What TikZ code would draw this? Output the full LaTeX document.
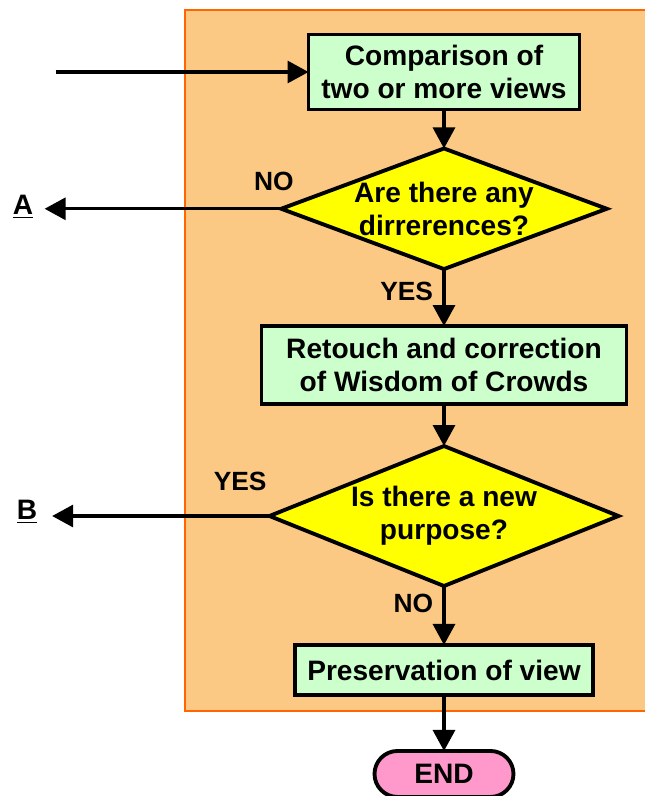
\documentclass[tikz,border=0pt]{standalone}
\usepackage{fontspec}
\setmainfont{Liberation Sans}
\usepackage{tikz}
\usetikzlibrary{positioning,shapes.geometric,arrows.meta}
\definecolor{zonefill}{HTML}{FBC984}
\definecolor{zoneline}{HTML}{FF6600}
\definecolor{procfill}{HTML}{CCFFCC}
\definecolor{decfill}{HTML}{FFFF00}
\definecolor{endfill}{HTML}{FF99CC}
\tikzset{
  zone/.style={fill=zonefill,draw=zoneline,line width=1.2pt},
  process/.style={shape=rectangle,draw=black,line width=2.2pt,fill=procfill,align=center,
    inner sep=0pt,outer sep=0pt,font=\bfseries\fontsize{16}{19}\selectfont},
  decision/.style={shape=diamond,aspect=2.7,draw=black,line width=2.2pt,fill=decfill,align=center,
    inner sep=0pt,outer sep=0pt,font=\bfseries\fontsize{16}{19}\selectfont},
  terminal/.style={shape=rectangle,rounded corners=0.46cm,draw=black,line width=2.2pt,fill=endfill,
    inner sep=0pt,outer sep=0pt,font=\bfseries\fontsize{16}{19}\selectfont},
  flow/.style={line width=1.8pt,draw=black,-{Triangle[length=0.42cm,width=0.44cm]}},
  answer/.style={font=\bfseries\fontsize{15}{18}\selectfont},
  exitlabel/.style={font=\bfseries\fontsize{16}{19}\selectfont}
}
\begin{document}
\begin{tikzpicture}[x=0.02cm,y=-0.02cm]
      \clip (0,0) rectangle (645,796);
      \fill[white] (0,0) rectangle (645,796);
      \draw[zone] (185,10) rectangle (680,711);
      \node[process,minimum width=5.42cm,minimum height=1.5cm] (cmp) at (444,72) {Comparison of\\two or more views};
      \node[decision,below=0.78cm of cmp,minimum width=6.44cm,minimum height=2.32cm] (diff) {Are there any\\dirrerences?};
      \node[process,below=1.14cm of diff,minimum width=7.3cm,minimum height=1.56cm] (fix) {Retouch and correction\\of Wisdom of Crowds};
      \node[decision,below=0.84cm of fix,minimum width=6.98cm,minimum height=2.8cm] (purp) {Is there a new\\purpose?};
      \node[process,below=1.18cm of purp,minimum width=5.96cm,minimum height=1cm] (keep) {Preservation of view};
      \node[terminal,below=1.12cm of keep,minimum width=2.78cm,minimum height=0.92cm] (stop) {END};
      \node[exitlabel] (A) at (23,207) {\underline{A}};
      \node[exitlabel] (B) at (27,512) {\underline{B}};
      \coordinate (entry) at ([xshift=-5.06cm]cmp.west);
      \draw[flow] (entry) -- (cmp.west);
      \draw[flow] (cmp) -- (diff);
      \draw[flow,shorten >=3pt] (diff.west) -- node[answer,pos=0.03,above=6pt] {NO} (diff.west -| A.east);
      \draw[flow] (diff) -- node[answer,pos=0.4,left=2pt] {YES} (fix);
      \draw[flow] (fix) -- (purp);
      \draw[flow,shorten >=5pt] (purp.west) -- node[answer,pos=0.13,above=10pt] {YES} (purp.west -| B.east);
      \draw[flow] (purp) -- node[answer,pos=0.3,left=2pt] {NO} (keep);
      \draw[flow] (keep) -- (stop);
\end{tikzpicture}
\end{document}
